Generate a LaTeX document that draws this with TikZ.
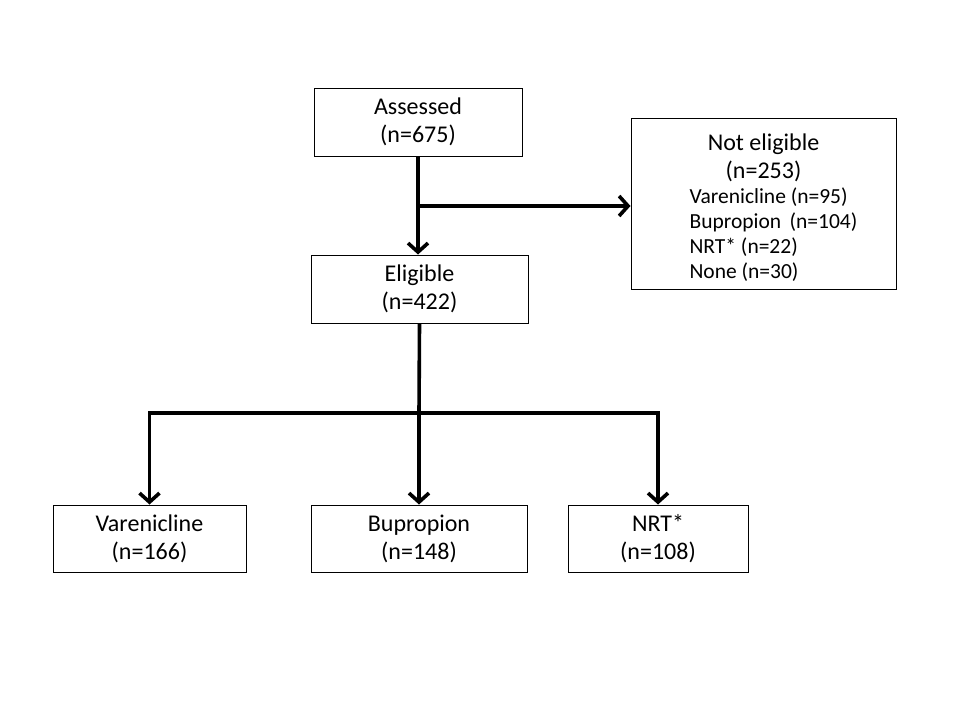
\documentclass[tikz,border=0pt]{standalone}
\usepackage{fontspec}
\setmainfont{Carlito}
\usetikzlibrary{arrows.meta}

\begin{document}
\begin{tikzpicture}[x=1pt,y=-1pt,
    box/.style={draw,line width=1pt,inner sep=0pt,align=center,
      font=\fontsize{24}{28}\selectfont},
    flow/.style={line width=3.6pt,-{Straight Barb[length=9pt,width=20pt]}},
    trunk/.style={line width=3.6pt}]
    \useasboundingbox (0,0) rectangle (960,720);

    % Kaesten
    \node[box,minimum width=208pt,minimum height=68pt] (assessed) at (418,122) {Assessed\\(n=675)};
    \node[box,minimum width=217pt,minimum height=68pt] (eligible) at (419.5,289) {Eligible\\(n=422)};
    \node[box,minimum width=265pt,minimum height=171pt] (noteligible) at (763.5,203.5)
      {\rule{0pt}{29pt}Not eligible\\(n=253)\\[-3pt]
       \hspace*{20pt}{\fontsize{21.5}{25}\selectfont\begin{tabular}[t]{@{}l@{}}
        Varenicline (n=95)\\Bupropion\, (n=104)\\NRT* (n=22)\\None (n=30)
       \end{tabular}}};
    \node[box,minimum width=193pt,minimum height=67pt] (varen) at (149.5,538.5) {Varenicline\\(n=166)};
    \node[box,minimum width=216pt,minimum height=67pt] (bupro) at (419,538.5) {Bupropion\\(n=148)};
    \node[box,minimum width=180pt,minimum height=67pt] (nrt) at (658,538.5) {NRT*\\(n=108)};

    % Verzweigungen
    \coordinate (split) at (418,206);
    \coordinate (fork) at (419,413);

    % Pfeile
    \draw[flow] (assessed.south) -- (eligible.north -| assessed.south);
    \draw[flow] (split) -- (split -| noteligible.west);
    \draw[trunk] (eligible.south) -- (fork);
    \draw[flow] (fork) -| (varen.north);
    \draw[flow] (fork) -- (bupro.north);
    \draw[flow] (fork) -| (nrt.north);
\end{tikzpicture}
\end{document}
